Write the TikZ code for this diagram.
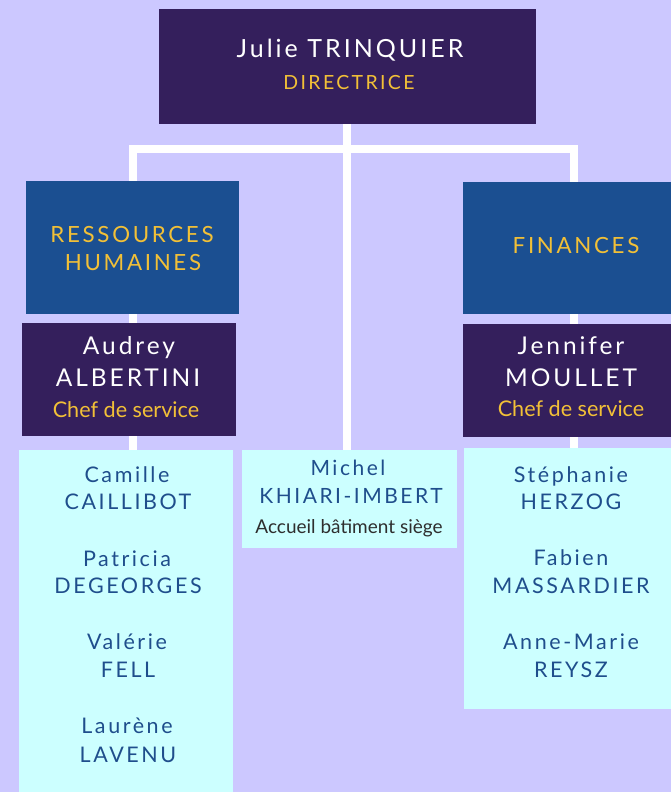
\documentclass[tikz,border=0pt]{standalone}
\usepackage{fontspec}
\setmainfont{Lato}
\newfontfamily\spaced[LetterSpace=12]{Lato}
\newfontfamily\plain{Lato}
\newcommand\fsz[1]{\fontsize{#1}{#1}\selectfont}
\definecolor{bgc}{HTML}{CCC8FF}
\definecolor{purp}{HTML}{341F5C}
\definecolor{blu}{HTML}{1B4F91}
\definecolor{cyanb}{HTML}{CCFFFF}
\definecolor{yel}{HTML}{F2C037}
\definecolor{nameb}{HTML}{1F4E8C}
\definecolor{grayt}{HTML}{2E2E2E}
\pgfdeclarelayer{bg}\pgfdeclarelayer{lines}\pgfsetlayers{bg,lines,main}
\tikzset{
  box/.style={anchor=north west, inner sep=0pt, outer sep=0pt, draw=none},
  pbox/.style={box, fill=purp},
  bbox/.style={box, fill=blu},
  cbox/.style={box, fill=cyanb},
  txt/.style={anchor=base, inner sep=0pt, outer sep=0pt},
  top nm/.style={txt, text=white, font=\spaced\fsz{25}},
  nm/.style={txt, text=white, font=\spaced\fsz{24.5}},
  role/.style={txt, text=yel, font=\spaced\fsz{19.5}},
  dept/.style={txt, text=yel, font=\spaced\fsz{22.3}},
  chef/.style={txt, text=yel, font=\plain\fsz{21.6}},
  pers/.style={txt, text=nameb, font=\spaced\fsz{21.5}},
  persm/.style={txt, text=nameb, font=\spaced\fsz{21}},
  link/.style={draw=white, line width=8pt},
}
\begin{document}
\begin{tikzpicture}[x=1pt,y=-1pt]
\begin{pgfonlayer}{bg}
\fill[bgc] (0,0) rectangle (671,792);
\end{pgfonlayer}
\useasboundingbox (0,0) rectangle (671,792);
% boxes
\node[pbox, minimum width=377pt, minimum height=115pt] (top) at (159,9) {};
\node[bbox, minimum width=213pt, minimum height=133pt] (rh) at (26,181) {};
\node[pbox, minimum width=214pt, minimum height=113pt] (aud) at (22,323) {};
\node[bbox, minimum width=208pt, minimum height=132pt] (fin) at (463,182) {};
\node[pbox, minimum width=208pt, minimum height=113pt] (jen) at (463,324) {};
\node[cbox, minimum width=214pt, minimum height=342pt] (cam) at (19,450) {};
\node[cbox, minimum width=215pt, minimum height=98pt] (mic) at (242,450) {};
\node[cbox, minimum width=207pt, minimum height=261pt] (ste) at (464,448) {};
% connectors
\coordinate (jc) at (347,149);
\coordinate (jl) at (133,149);
\coordinate (jr) at (574,149);
\begin{pgfonlayer}{lines}
\draw[link] (top.south -| jc) -- (jc |- mic.north);
\draw[link, line cap=rect] (jl) -- (jr);
\draw[link] (jl) -- (jl |- cam.north);
\draw[link] (jr) -- (jr |- ste.north);
\end{pgfonlayer}
% texts
\node[top nm] (t1) at (350,58) {Julie TRINQUIER};
\node[role] (t2) at (349,89) {DIRECTRICE};
\node[dept] (r1) at (132,242) {RESSOURCES};
\node[dept] (r2) at (133,270) {HUMAINES};
\node[dept] (f1) at (576,253) {FINANCES};
\node[nm] (a1) at (129,354) {Audrey};
\node[nm] (a2) at (128,386) {ALBERTINI};
\node[chef] (a3) at (126,417) {Chef de service};
\node[nm] (j1) at (571,354) {Jennifer};
\node[nm] (j2) at (571,386) {MOULLET};
\node[chef] (j3) at (571,416) {Chef de service};
\node[persm] (m1) at (348,475) {Michel};
\node[persm] (m2) at (351,503) {KHIARI-IMBERT};
\node[txt, text=grayt, font=\plain\fsz{19}] (m3) at (349,533) {Accueil bâtiment siège};
\node[pers] (c1) at (127,482) {Camille};
\node[pers] (c2) at (128,509) {CAILLIBOT};
\node[pers] (c3) at (127,566) {Patricia};
\node[pers] (c4) at (128,593) {DEGEORGES};
\node[pers] (c5) at (127,649) {Valérie};
\node[pers] (c6) at (128,677) {FELL};
\node[pers] (c7) at (127,733) {Laurène};
\node[pers] (c8) at (128,762) {LAVENU};
\node[pers] (s1) at (571,482) {Stéphanie};
\node[pers] (s2) at (571,509) {HERZOG};
\node[pers] (s3) at (571,565) {Fabien};
\node[pers] (s4) at (571,593) {MASSARDIER};
\node[pers] (s5) at (571,649) {Anne-Marie};
\node[pers] (s6) at (571,677) {REYSZ};
\end{tikzpicture}
\end{document}
